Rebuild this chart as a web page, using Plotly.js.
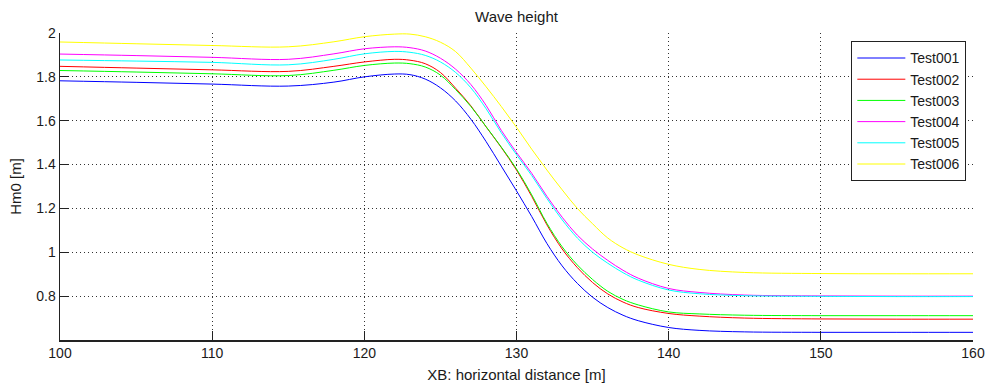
<!DOCTYPE html>
<html>
<head>
<meta charset="utf-8">
<script src="https://cdn.plot.ly/plotly-3.0.1.min.js"></script>
<style>html,body{margin:0;padding:0;background:#fff;}#chart{width:990px;height:388px;}</style>
</head>
<body>
<div id="chart"></div>
<script>
// Data
const xb = [100,105,110,115,118,120,122,123,124,125,126,127,128,129,130,131,132,133,134,135,136,137,138,140,142,145,150,155,160];
const test001 = [1.782,1.775,1.767,1.758,1.776,1.800,1.813,1.810,1.790,1.750,1.690,1.607,1.505,1.393,1.280,1.163,1.040,0.938,0.858,0.795,0.748,0.713,0.688,0.657,0.644,0.637,0.635,0.635,0.635];
const test002 = [1.848,1.840,1.832,1.825,1.848,1.868,1.880,1.876,1.860,1.820,1.748,1.668,1.572,1.478,1.375,1.255,1.125,1.015,0.930,0.862,0.810,0.773,0.748,0.721,0.709,0.700,0.696,0.695,0.695];
const test003 = [1.829,1.822,1.814,1.806,1.830,1.852,1.863,1.860,1.845,1.808,1.742,1.665,1.573,1.480,1.380,1.262,1.132,1.025,0.942,0.876,0.822,0.785,0.760,0.728,0.719,0.713,0.711,0.711,0.711];
const test004 = [1.904,1.897,1.889,1.880,1.905,1.928,1.937,1.933,1.918,1.885,1.835,1.765,1.670,1.556,1.455,1.360,1.255,1.160,1.078,1.015,0.963,0.918,0.882,0.835,0.817,0.805,0.801,0.800,0.800];
const test005 = [1.877,1.872,1.866,1.855,1.880,1.905,1.916,1.912,1.898,1.868,1.820,1.750,1.655,1.545,1.445,1.350,1.245,1.148,1.065,1.000,0.950,0.907,0.873,0.828,0.811,0.802,0.799,0.798,0.798];
const test006 = [1.959,1.951,1.943,1.937,1.960,1.983,1.995,1.995,1.983,1.958,1.915,1.840,1.755,1.665,1.570,1.470,1.375,1.285,1.200,1.130,1.065,1.020,0.988,0.945,0.922,0.908,0.903,0.902,0.902];
const seriesNames = ["Test001","Test002","Test003","Test004","Test005","Test006"];
const seriesValues = [test001,test002,test003,test004,test005,test006];
const seriesColors = ["#0000ff","#ff0000","#00ff00","#ff00ff","#00ffff","#ffff00"];
const xTicks = [100,110,120,130,140,150,160];
const yTicks = [0.8,1,1.2,1.4,1.6,1.8,2];
const yTickText = ["0.8","1","1.2","1.4","1.6","1.8","2"];

const font = '"Liberation Sans", Arial, sans-serif';
const traces = seriesNames.map((n,i)=>({
  x: xb, y: seriesValues[i], name: n, type: 'scatter', mode: 'lines',
  line: {color: seriesColors[i], width: 1, shape: 'spline', smoothing: 1}
}));

const axisCommon = {
  showgrid: true, gridcolor: '#333', griddash: '1px,3px', gridwidth: 1,
  showline: true, linecolor: '#222', linewidth: 1.5,
  ticks: 'inside', ticklen: 9, tickcolor: '#222', tickwidth: 1,
  zeroline: false, tickfont: {family: font, size: 14, color: '#1a1a1a'}
};

const layout = {
  width: 990, height: 388,
  margin: {l: 60, r: 17, t: 33, b: 48},
  paper_bgcolor: '#fff', plot_bgcolor: '#fff',
  font: {family: font, color: '#1a1a1a'},
  title: {text: 'Wave height', font: {family: font, size: 15, color: '#1a1a1a'},
          xref: 'paper', x: 0.5, xanchor: 'center', yref: 'container', y: 0.957, yanchor: 'middle'},
  xaxis: Object.assign({}, axisCommon, {
    range: [100,160], tickvals: xTicks, ticktext: xTicks.map(String),
    title: {text: 'XB: horizontal distance [m]', font: {family: font, size: 15, color: '#1a1a1a'}, standoff: 9}
  }),
  yaxis: Object.assign({}, axisCommon, {
    range: [0.6,2], tickvals: yTicks, ticktext: yTickText,
    title: {text: 'Hm0 [m]', font: {family: font, size: 15, color: '#1a1a1a'}, standoff: 11}
  }),
  legend: {x: 0.9927, xanchor: 'right', y: 0.9726, yanchor: 'top',
    bgcolor: '#fff', bordercolor: '#222', borderwidth: 1,
    font: {family: font, size: 14, color: '#1a1a1a'}, itemwidth: 48, tracegroupgap: 0},
  showlegend: true
};

Plotly.newPlot('chart', traces, layout, {displayModeBar: false, staticPlot: true});
</script>
</body>
</html>
